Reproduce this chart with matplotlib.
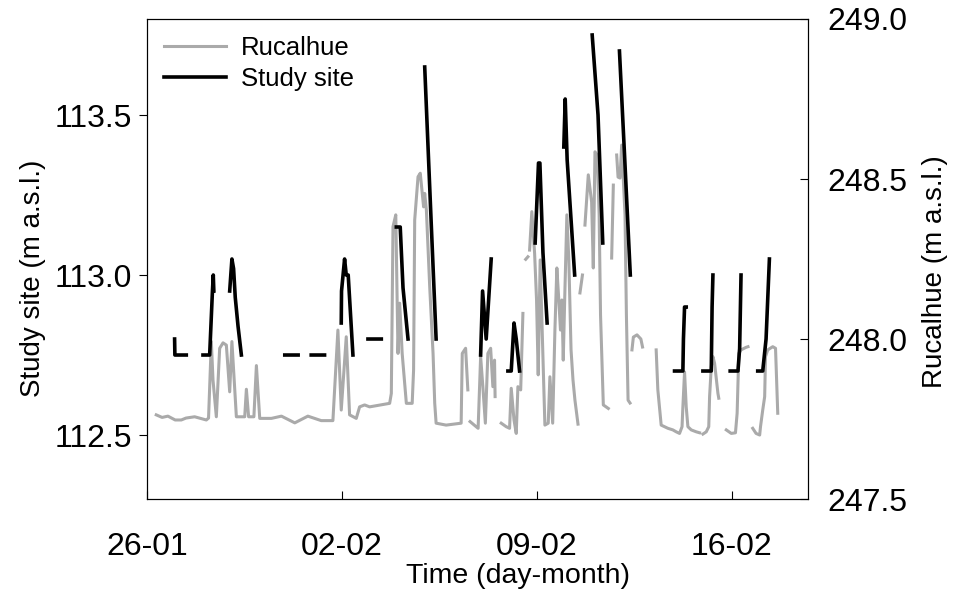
import numpy as np
import matplotlib
matplotlib.use("Agg")
import matplotlib.pyplot as plt
import matplotlib.dates as mdates

plt.rcParams['font.family'] = ['Liberation Sans', 'DejaVu Sans']

nan = np.nan

# Study site water level (m a.s.l.), days since 26-01; nan = gap in record
study_days = [0.98, 0.99, 1.40, nan,
              2.00, 2.24, 2.34, 2.37, 2.39, nan,
              2.96, 3.04, 3.10, 3.16, 3.26, 3.38, nan,
              4.94, 5.42, nan,
              5.89, 6.37, nan,
              6.97, 6.98, 7.09, 7.15, 7.22, 7.39, nan,
              7.93, 8.41, nan,
              8.95, 9.09, 9.19, 9.37, nan,
              9.97, 10.20, 10.38, nan,
              11.98, 12.05, 12.18, 12.36, nan,
              12.96, 13.08, 13.18, 13.26, 13.38, nan,
              13.94, 14.06, 14.11, 14.22, 14.37, nan,
              14.97, 15.02, 15.09, 15.36, nan,
              15.99, 16.20, 16.37, nan,
              16.97, 17.15, 17.36, nan,
              18.95, 19.25, 19.27, 19.31, 19.37, nan,
              19.97, 20.27, 20.30, 20.33, nan,
              20.95, 21.23, 21.29, 21.34, nan,
              21.94, 22.12, 22.24, 22.36]
study_level = [112.80, 112.75, 112.75, nan,
               112.75, 112.75, 112.95, 113.00, 112.95, nan,
               112.95, 113.05, 113.02, 112.93, 112.84, 112.75, nan,
               112.75, 112.75, nan,
               112.75, 112.75, nan,
               112.85, 112.95, 113.05, 113.00, 113.00, 112.75, nan,
               112.80, 112.80, nan,
               113.15, 113.15, 112.96, 112.80, nan,
               113.65, 113.17, 112.80, nan,
               112.75, 112.95, 112.80, 113.05, nan,
               112.70, 112.70, 112.85, 112.80, 112.70, nan,
               113.10, 113.35, 113.35, 113.07, 112.85, nan,
               113.40, 113.55, 113.36, 113.00, nan,
               113.75, 113.50, 113.10, nan,
               113.70, 113.38, 113.00, nan,
               112.70, 112.70, 112.80, 112.90, 112.90, nan,
               112.70, 112.70, 112.90, 113.00, nan,
               112.70, 112.70, 112.77, 113.00, nan,
               112.70, 112.70, 112.80, 113.05]

# Rucalhue water level (m a.s.l.)
rucalhue_days = [0.32, 0.53, 0.74, 1.00, 1.22, 1.39, 1.70, 2.12, 2.20, 2.30,
                 2.36, 2.48, 2.56, 2.60, 2.72, 2.84, 2.96, 3.04, 3.12, 3.20,
                 3.50, 3.56, 3.64, 3.83, 3.92, 4.04, 4.46, 4.82, 5.30, 5.77,
                 6.25, 6.67, 6.85, 6.97, 7.15, 7.27, 7.51, 7.63, 7.81, 7.99,
                 8.71, 8.77, 8.83, 8.93, 9.01, 9.07, 9.16, 9.31, 9.52, 9.57,
                 9.61, 9.73, 9.81, 9.88, 9.93, 9.97, 10.03, 10.15, 10.27, 10.33,
                 10.38, 10.74, 11.28, 11.32, 11.44, 11.52, nan,
                 11.60, 11.89, 11.98, 12.06, 12.15, 12.24, 12.34, 12.42, 12.48, 12.50, nan,
                 12.72, 12.90, 13.02, 13.08, 13.18, 13.26, 13.32, 13.42, 13.50, nan,
                 13.60, 13.68, nan,
                 13.74, 13.82, 13.92, 13.99, 14.05, 14.12, 14.18, 14.29, 14.41, 14.47,
                 14.57, 14.65, 14.72, 14.79, 14.85, 14.90, 14.95, 15.01, 15.08, 15.15,
                 15.23, 15.30, 15.37, 15.48, nan,
                 15.55, 15.64, nan,
                 15.73, 15.85, 15.97, 16.03, 16.09, 16.17, 16.24, 16.29, 16.39, 16.57, nan,
                 16.69, 16.75, nan,
                 16.87, 16.92, 16.99, 17.05, 17.17, 17.22, 17.28, 17.35, nan,
                 17.42, 17.47, 17.60, 17.74, 17.80, nan,
                 18.29, 18.35, 18.47, 18.71, 18.89, 19.01, 19.13, 19.22, 19.25, 19.31,
                 19.37, 19.43, 19.55, 19.73, 19.85, nan,
                 19.97, 20.09, 20.18, 20.21, 20.27, 20.33, 20.39, 20.51, 20.54, nan,
                 20.81, 20.99, 21.14, 21.20, 21.26, 21.34, 21.52, 21.59, nan,
                 21.76, 21.88, 22.01, 22.04, 22.12, 22.19, 22.22, 22.30, 22.48, 22.58,
                 22.66]
rucalhue_level = [247.763, 247.755, 247.759, 247.747, 247.747, 247.753, 247.757, 247.747, 247.753, 247.992,
                  247.872, 247.757, 247.903, 247.971, 247.988, 247.981, 247.835, 247.992, 247.872, 247.757,
                  247.757, 247.843, 247.757, 247.757, 247.917, 247.752, 247.752, 247.759, 247.738, 247.759,
                  247.745, 247.745, 248.028, 247.778, 248.007, 247.763, 247.752, 247.788, 247.794, 247.788,
                  247.799, 247.830, 248.351, 248.388, 247.955, 248.112, 247.955, 247.799, 247.799, 247.903,
                  248.372, 248.507, 248.518, 248.455, 248.413, 248.455, 248.403, 248.163, 247.955, 247.799,
                  247.737, 247.731, 247.737, 247.955, 247.971, 247.841, nan,
                  247.742, 247.721, 247.945, 247.851, 247.737, 247.955, 247.971, 247.851, 247.934, 247.820, nan,
                  247.737, 247.726, 247.721, 247.846, 247.747, 247.705, 247.851, 247.841, 248.080, nan,
                  248.249, 248.257, nan,
                  248.278, 248.398, 248.268, 248.122, 247.888, 248.247, 248.069, 247.731, 247.737, 247.882,
                  247.737, 248.028, 248.222, 248.122, 248.028, 248.122, 247.934, 248.153, 248.388, 248.247,
                  247.966, 247.872, 247.809, 247.734, nan,
                  248.144, 248.200, nan,
                  248.356, 248.513, 248.428, 248.222, 248.585, 248.575, 248.388, 248.075, 247.794, 247.783, nan,
                  248.253, 248.481, nan,
                  248.575, 248.506, 248.503, 248.606, 248.388, 248.075, 247.809, 247.800, nan,
                  247.966, 248.006, 248.013, 248.000, 247.975, nan,
                  247.966, 247.841, 247.731, 247.721, 247.716, 247.710, 247.705, 247.726, 247.788, 247.897,
                  247.788, 247.726, 247.716, 247.710, 247.707, nan,
                  247.703, 247.710, 247.726, 247.820, 247.913, 247.945, 247.924, 247.830, 247.815, nan,
                  247.716, 247.705, 247.707, 247.768, 247.955, 247.966, 247.974, 247.976, nan,
                  247.721, 247.705, 247.700, 247.726, 247.778, 247.820, 247.945, 247.966, 247.976, 247.971,
                  247.768]

tick_days = [0, 7, 14, 21]

start = mdates.date2num(np.datetime64('2016-01-26'))
t_study = start + np.array(study_days)
t_ruc = start + np.array(rucalhue_days)

fig = plt.figure(figsize=(9.58, 5.90), dpi=100)
ax = fig.add_axes([0.1538, 0.1542, 0.6897, 0.8136])
ax2 = ax.twinx()

ax.set_zorder(ax2.get_zorder() + 1)
ax.patch.set_visible(False)

lr, = ax2.plot(t_ruc, rucalhue_level, color='#aaaaaa', lw=2.2,
               solid_joinstyle='round', label='Rucalhue')
ls, = ax.plot(t_study, study_level, color='black', lw=2.6,
              solid_joinstyle='round', label='Study site')

ax.set_xlim(start, start + 23.75)
ax.set_ylim(112.3, 113.8)
ax2.set_ylim(247.5, 249.0)

ax.set_yticks([112.5, 113.0, 113.5])
ax2.set_yticks([247.5, 248.0, 248.5, 249.0])
ax.set_xticks(start + np.array(tick_days))
ax.xaxis.set_major_formatter(mdates.DateFormatter('%d-%m'))

ax.tick_params(axis='y', direction='out', length=6, labelsize=23, pad=5)
ax.tick_params(axis='x', direction='in', length=6, labelsize=23, pad=24)
ax2.tick_params(axis='y', direction='in', length=6, labelsize=23, pad=14)

ax.set_xlabel('Time (day-month)', fontsize=20.5)
ax.set_ylabel('Study site (m a.s.l.)', fontsize=20)
ax2.set_ylabel('Rucalhue (m a.s.l.)', fontsize=20)
ax.xaxis.set_label_coords(0.561, -0.133)
ax.yaxis.set_label_coords(-0.154, 0.46)
ax2.yaxis.set_label_coords(1.172, 0.473)

ax.legend([lr, ls], ['Rucalhue', 'Study site'], loc='upper left', frameon=False,
          fontsize=18.5, handlelength=2.4, handletextpad=0.6,
          borderaxespad=0.25, labelspacing=0.3)

fig.savefig('out.png', dpi=100)
